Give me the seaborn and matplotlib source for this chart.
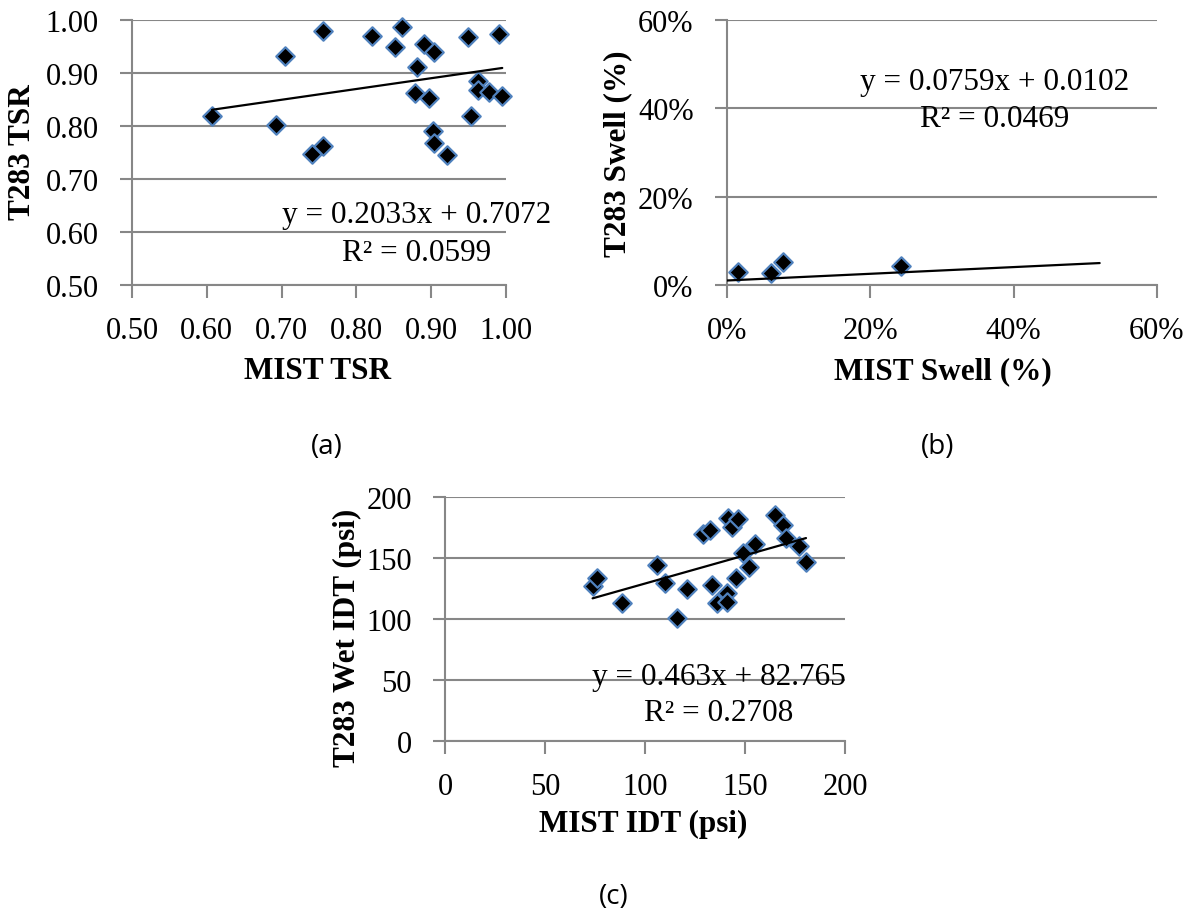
import numpy as np
import pandas as pd
import matplotlib
matplotlib.use("Agg")
import matplotlib.pyplot as plt
import seaborn as sns
from matplotlib.ticker import PercentFormatter, FormatStrFormatter

# ---------------- data ----------------
# (a) TSR
a_mist_tsr = [0.607, 0.704, 0.755, 0.693, 0.741, 0.755, 0.821, 0.851, 0.861, 0.891,
              0.904, 0.881, 0.879, 0.897, 0.903, 0.904, 0.921, 0.949, 0.991, 0.953,
              0.962, 0.962, 0.977, 0.995]
a_t283_tsr = [0.818, 0.933, 0.980, 0.802, 0.747, 0.762, 0.969, 0.950, 0.987, 0.955,
              0.940, 0.912, 0.862, 0.852, 0.791, 0.767, 0.745, 0.967, 0.974, 0.818,
              0.885, 0.867, 0.864, 0.856]
a_coef = [0.2033, 0.7072]
a_r2 = 0.0599

# (b) Swell
b_mist_swell = [0.015, 0.062, 0.078, 0.243]
b_t283_swell = [0.030, 0.028, 0.051, 0.043]
b_coef = [0.0759, 0.0102]
b_r2 = 0.0469
b_trend_range = [0.0, 0.52]

# (c) IDT
c_mist_idt = [73.8, 76.2, 88.3, 106.2, 110.0, 116.2, 120.8, 129.2, 132.5, 133.3,
              135.8, 140.8, 140.8, 141.7, 143.7, 146.7, 145.3, 148.8, 152.0, 155.0,
              165.0, 168.8, 170.5, 177.2, 180.5]
c_t283_idt = [127.0, 133.5, 113.2, 144.5, 129.7, 100.6, 124.2, 170.0, 172.7, 127.5,
              113.2, 121.5, 114.3, 182.9, 175.5, 182.3, 133.8, 154.4, 142.6, 161.8,
              185.0, 177.4, 166.4, 159.5, 146.7]
c_coef = [0.463, 82.765]
c_r2 = 0.2708

# ---------------- style ----------------
W, H = 1189, 920
sns.set_theme(style="white")
plt.rcParams["font.family"] = ["Liberation Serif", "DejaVu Serif"]
plt.rcParams["text.color"] = "black"
plt.rcParams["axes.labelcolor"] = "black"
plt.rcParams["xtick.color"] = "black"
plt.rcParams["ytick.color"] = "black"

GRAY = "#878787"
EDGE = "#4f81bd"
TICK_FS = 22
LAB_FS = 22.5
EQ_FS = 22.5

fig = plt.figure(figsize=(W / 100, H / 100), dpi=100)
fig.patch.set_facecolor("white")


def add_ax(l, r, t, b):
    return fig.add_axes([l / W, 1 - b / H, (r - l) / W, (b - t) / H])


def ftext(x, y, s, **kw):
    fig.text(x / W, 1 - y / H, s, color="black", **kw)


def style(ax, xlim, ylim, xticks, yticks):
    ax.set_xlim(*xlim)
    ax.set_ylim(*ylim)
    ax.set_xticks(xticks)
    ax.set_yticks(yticks)
    ax.set_facecolor("white")
    ax.grid(axis="y", color=GRAY, lw=1.5)
    ax.grid(axis="x", visible=False)
    ax.set_axisbelow(True)
    for s in ["top", "right"]:
        ax.spines[s].set_visible(False)
    for s in ["left", "bottom"]:
        ax.spines[s].set_color(GRAY)
        ax.spines[s].set_linewidth(1.5)
    ax.tick_params(axis="both", direction="out", length=9, width=1.5,
                   color=GRAY, labelsize=TICK_FS, labelcolor="black")
    ax.tick_params(axis="x", pad=13, bottom=True)
    ax.tick_params(axis="y", pad=15, left=True)
    ax.set_xlabel("")
    ax.set_ylabel("")


def draw(ax, x, y, coef, trange):
    df = pd.DataFrame({"x": x, "y": y})
    sns.scatterplot(data=df, x="x", y="y", ax=ax, marker="D", s=88,
                    color="black", edgecolor=EDGE, linewidth=1.6,
                    clip_on=False, zorder=3)
    tx = np.array(trange)
    tdf = pd.DataFrame({"x": tx, "y": coef[0] * tx + coef[1]})
    sns.lineplot(data=tdf, x="x", y="y", ax=ax, color="black", lw=1.6,
                 zorder=4)


# ---- (a)
ax1 = add_ax(132, 506, 21, 286)
draw(ax1, a_mist_tsr, a_t283_tsr, a_coef, [min(a_mist_tsr), max(a_mist_tsr)])
style(ax1, (0.5, 1.0), (0.5, 1.0), np.arange(0.5, 1.001, 0.1),
      np.arange(0.5, 1.001, 0.1))
ax1.xaxis.set_major_formatter(FormatStrFormatter("%.2f"))
ax1.yaxis.set_major_formatter(FormatStrFormatter("%.2f"))

# ---- (b)
ax2 = add_ax(727, 1157, 21, 286)
draw(ax2, b_mist_swell, b_t283_swell, b_coef, b_trend_range)
style(ax2, (0, 0.6), (0, 0.6), np.arange(0, 0.61, 0.2), np.arange(0, 0.61, 0.2))
ax2.xaxis.set_major_formatter(PercentFormatter(1.0, decimals=0))
ax2.yaxis.set_major_formatter(PercentFormatter(1.0, decimals=0))

# ---- (c)
ax3 = add_ax(445, 845, 498, 742)
draw(ax3, c_mist_idt, c_t283_idt, c_coef, [min(c_mist_idt), max(c_mist_idt)])
style(ax3, (0, 200), (0, 200), np.arange(0, 201, 50), np.arange(0, 201, 50))

# ---- equations
def eq_text(coef, r2, cx, y1, y2):
    ftext(cx, y1, f"y = {coef[0]:g}x + {coef[1]:g}", ha="center", va="baseline",
          fontsize=EQ_FS, zorder=10)
    ftext(cx, y2, f"R\u00b2 = {r2:.4f}", ha="center", va="baseline",
          fontsize=EQ_FS, zorder=10)

eq_text(a_coef, a_r2, 417, 223, 261)
eq_text(b_coef, b_r2, 995, 90, 127)
eq_text(c_coef, c_r2, 719, 685, 721)

# ---- axis labels
bold = dict(fontsize=LAB_FS, fontweight="bold", ha="center")
ftext(318, 379, "MIST TSR", va="baseline", **bold)
ftext(23, 152, "T283 TSR", va="center", rotation=90, **bold)
ftext(943, 379, "MIST Swell (%)", va="baseline", **bold)
ftext(618, 154, "T283 Swell (%)", va="center", rotation=90, **bold)
ftext(643, 832, "MIST IDT (psi)", va="baseline", **bold)
ftext(347, 638, "T283 Wet IDT (psi)", va="center", rotation=90, **bold)

# ---- panel labels
pl = dict(fontsize=20, ha="center", va="center", family=["Open Sans", "DejaVu Sans"])
ftext(327, 447, "(a)", **pl)
ftext(938, 447, "(b)", **pl)
ftext(614, 897, "(c)", **pl)

fig.savefig("out.png", dpi=100, facecolor="white")
